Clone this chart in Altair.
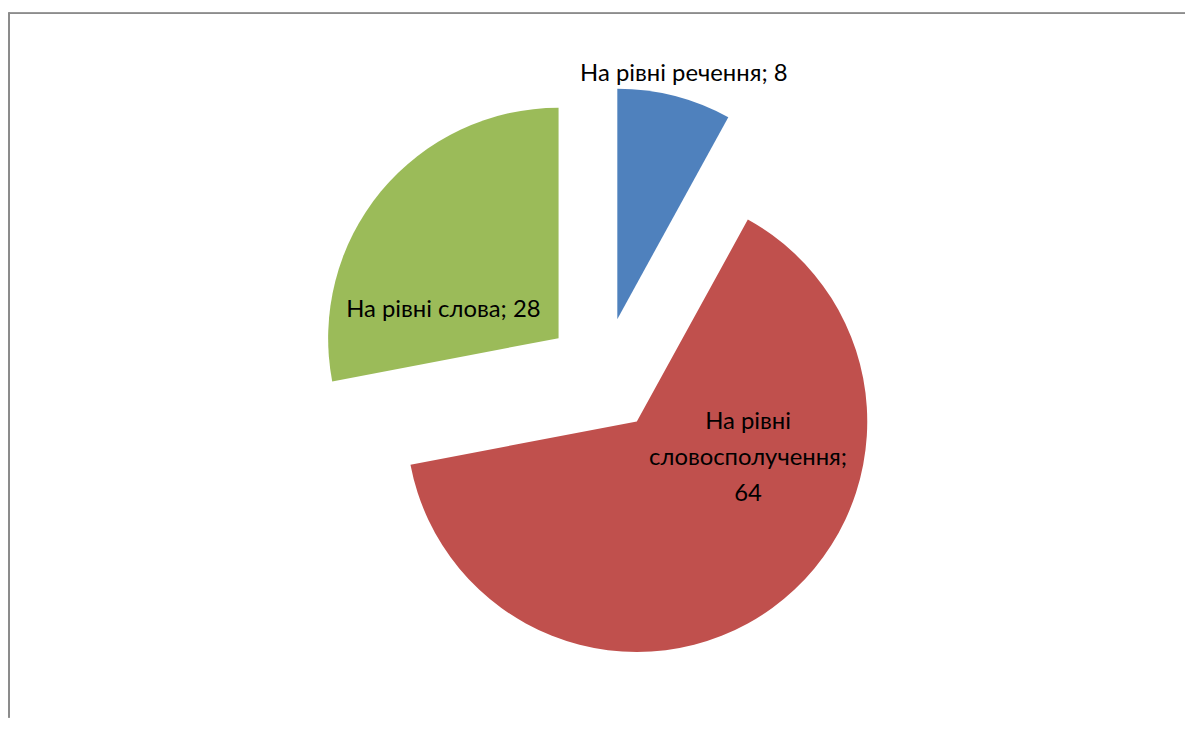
import altair as alt
import pandas as pd

# ---- data ----
categories = ["На рівні речення", "На рівні словосполучення", "На рівні слова"]
values = [8, 64, 28]
order = [0, 1, 2]

# ---- styles ----
colors = ["#4F81BD", "#C0504D", "#9BBB59"]
FONT = "Lato"
FONT_SIZE = 24
W, H = 1184, 710
CX, CY = 598, 365          # pie centre inside the view
RADIUS = 232
EXPLODE = 58
FRAME = "#8C8C8C"
# label placement relative to each exploded slice centre (dx, dy)
LABEL_NUDGE = {
    "На рівні речення": (67, -247),
    "На рівні словосполучення": (112, 1),
    "На рівні слова": (-116, -28),
}

df = pd.DataFrame({"cat": categories, "value": values, "idx": order})

base = alt.Chart(df).transform_window(
    end="sum(value)", sort=[alt.SortField("idx")], frame=[None, 0]
).transform_joinaggregate(
    total="sum(value)"
).transform_calculate(
    start="datum.end - datum.value",
    mid="(datum.end - datum.value / 2) / datum.total * 2 * PI",
)

ex = alt.ExprRef(expr=f"{EXPLODE} * sin(datum.mid)")
ey = alt.ExprRef(expr=f"-{EXPLODE} * cos(datum.mid)")

arcs = base.mark_arc(outerRadius=RADIUS, xOffset=ex, yOffset=ey).encode(
    x=alt.value(CX),
    y=alt.value(CY),
    theta=alt.Theta("start:Q", scale=alt.Scale(domain=[0, 100])),
    theta2="end:Q",
    color=alt.Color("cat:N", scale=alt.Scale(domain=categories, range=colors), legend=None),
)

layers = [arcs]
for cat in categories:
    dx, dy = LABEL_NUDGE[cat]
    if cat == "На рівні словосполучення":
        txt = "replace(datum.cat, ' сл', '|сл') + ';|' + datum.value"
    else:
        txt = "datum.cat + '; ' + datum.value"
    layers.append(
        base.transform_filter(alt.datum.cat == cat)
        .transform_calculate(label=txt)
        .mark_text(
            font=FONT, fontSize=FONT_SIZE, color="black", align="center",
            baseline="middle", lineBreak="|", lineHeight=36,
            xOffset=ex, yOffset=ey, dx=dx, dy=dy,
        )
        .encode(x=alt.value(CX), y=alt.value(CY), text="label:N")
    )

frame_left = alt.Chart(df).mark_rule(color=FRAME, strokeWidth=2).encode(
    x=alt.value(0), y=alt.value(0), y2=alt.value(H)
)
frame_top = alt.Chart(df).mark_rule(color=FRAME, strokeWidth=1.5).encode(
    x=alt.value(0), x2=alt.value(W), y=alt.value(0.75)
)

chart = alt.layer(frame_left, frame_top, *layers).properties(
    width=W, height=H, background="white",
    padding={"left": 0, "top": 1, "right": 0, "bottom": 0},
).configure_view(strokeWidth=0, stroke="transparent")

chart.save("out.html", embed_options={"renderer": "svg", "actions": False})
